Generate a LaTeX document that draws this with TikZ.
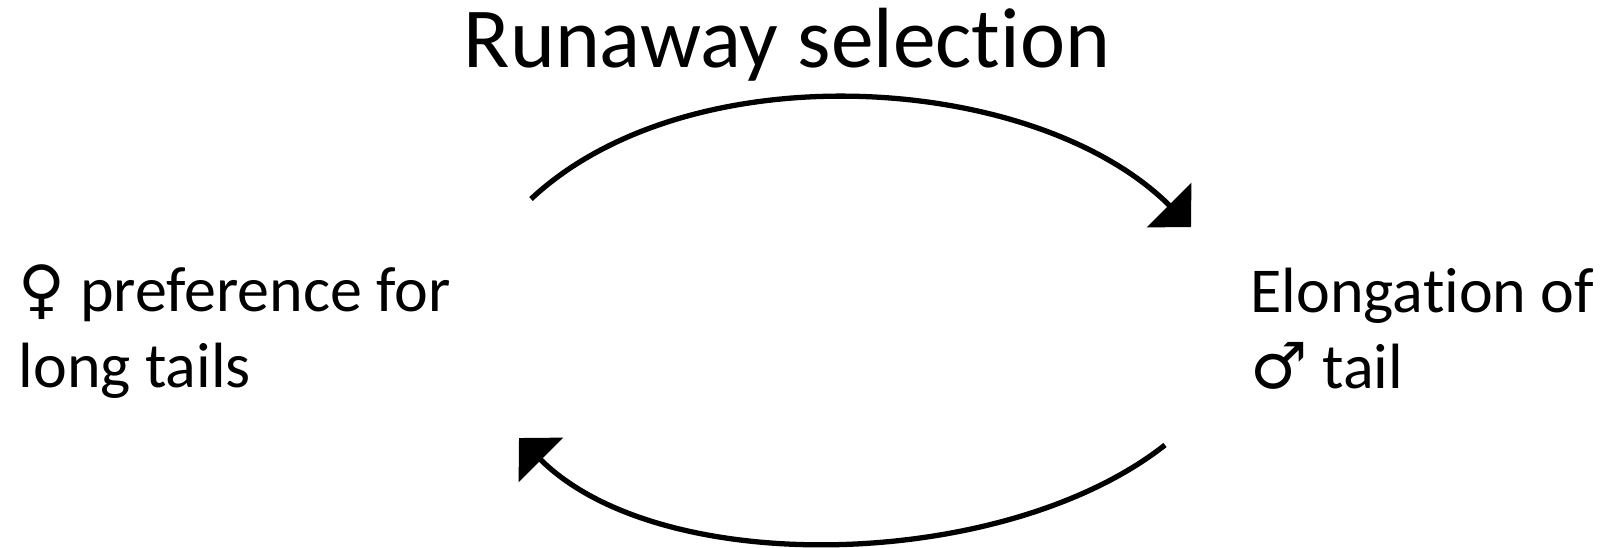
\documentclass[tikz,border=0pt]{standalone}
\usepackage{fontspec}
\setmainfont{Carlito}[Ligatures={NoCommon}]
\newfontfamily\symfont{DejaVu Sans}
\usetikzlibrary{arrows.meta}

\begin{document}
\begin{tikzpicture}[x=0.01cm, y=-0.01cm,
		cyclearc/.style={line width=1.5pt, -{Triangle[angle=90:31pt 1, length=0.31cm, width=0.62cm]}},
		label/.style={inner sep=0pt, align=left, font=\fontsize{18.2}{21.6}\selectfont}]
		\useasboundingbox (0, 0) rectangle (1603, 547);
		% title
		\node[inner sep=0pt, anchor=base, font=\fontsize{24.3}{29}\selectfont] (title) at (787, 67) {Runaway selection};
		% the two traits
		\node[label, anchor=north west] (pref) at (18, 264) {{\symfont ♀} preference for\\long tails};
		\node[label, anchor=north west] (tail) at (1250, 267) {Elongation of\\{\symfont ♂} tail};
		% ends of the arcs
		\coordinate (topL) at (531, 199);
		\coordinate (topR) at (1191, 227);
		\coordinate (botR) at (1165, 445);
		\coordinate (botL) at (519, 438);
		\draw[cyclearc] (topL) .. controls (690, 50) and (1036, 72) .. (topR);
		\draw[cyclearc] (botR) .. controls (1005, 571) and (661, 580) .. (botL);
	\end{tikzpicture}
\end{document}
